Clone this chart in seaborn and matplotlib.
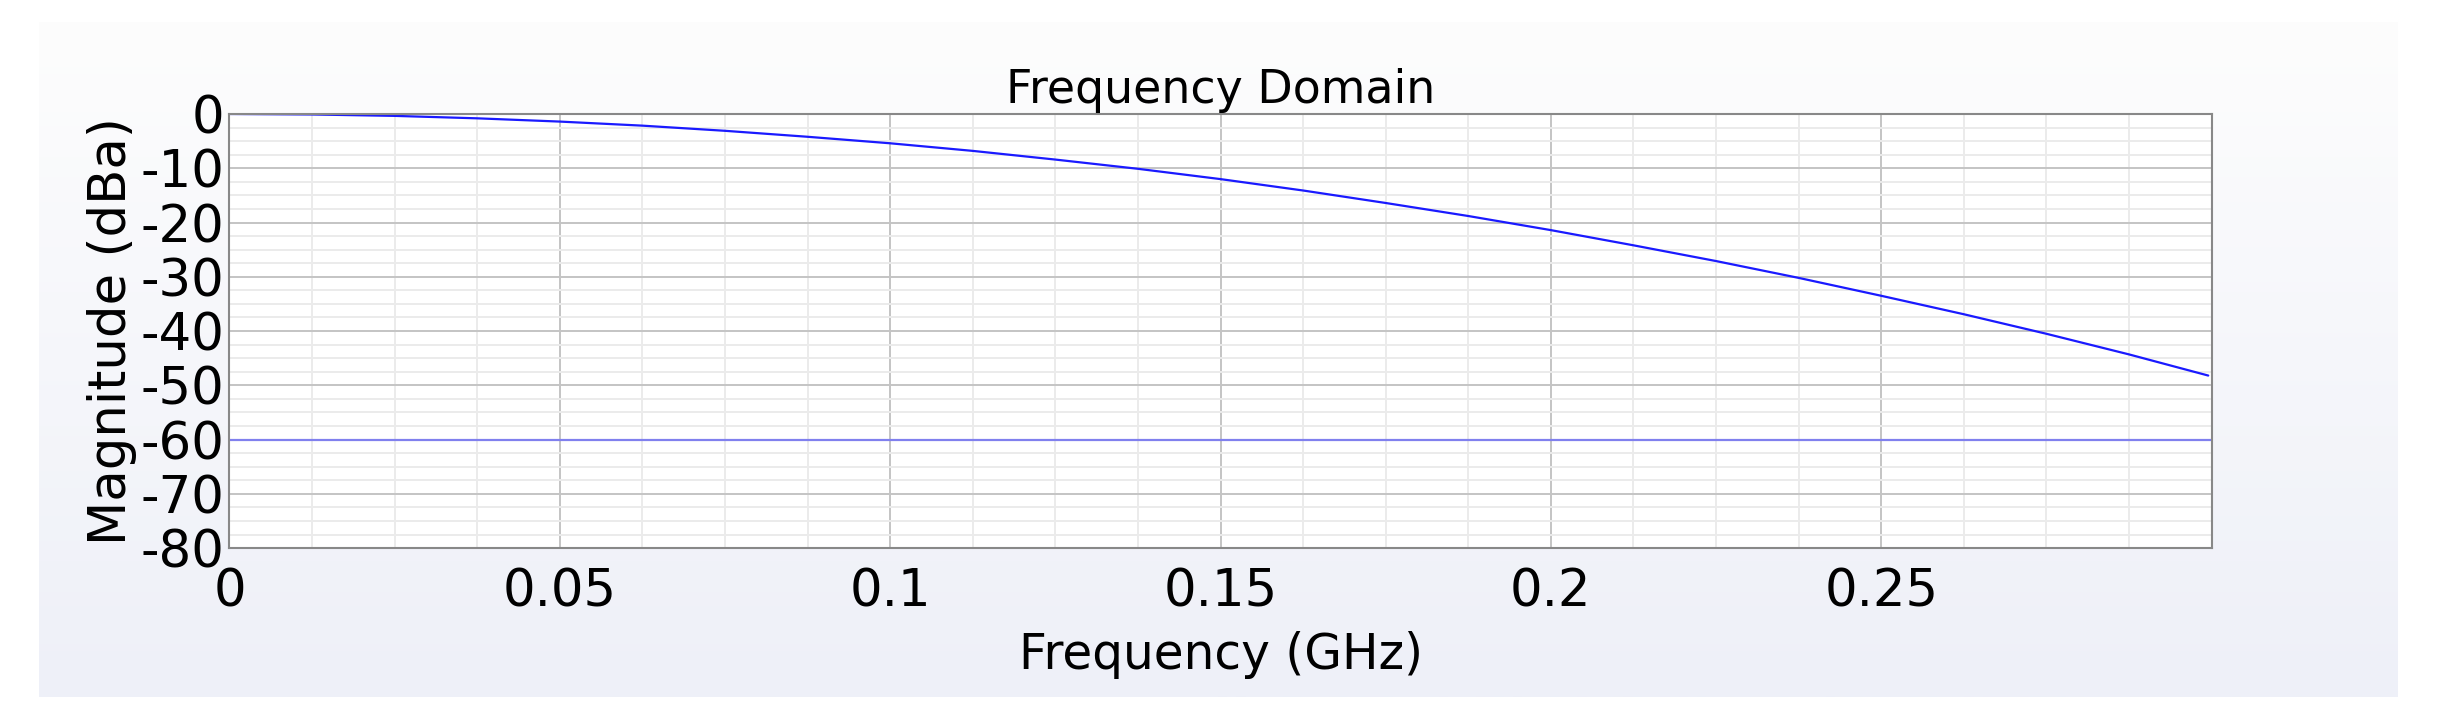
import numpy as np
import matplotlib
matplotlib.use("Agg")
import matplotlib.pyplot as plt
import seaborn as sns
from matplotlib.ticker import MultipleLocator

sns.set_style("white")
plt.rcParams["font.family"] = ["DejaVu Sans"]
plt.rcParams["axes.unicode_minus"] = False

freq = [0, 0.0125, 0.025, 0.0375, 0.05, 0.0625, 0.075, 0.0875, 0.1, 0.1125, 0.125,
        0.1375, 0.15, 0.1625, 0.175, 0.1875, 0.2, 0.2125, 0.225, 0.2375, 0.25,
        0.2625, 0.275, 0.2875, 0.2995]
mag = [0, -0.09, -0.35, -0.8, -1.4, -2.15, -3.1, -4.2, -5.4, -6.8, -8.4,
       -10.1, -12.0, -14.1, -16.4, -18.8, -21.4, -24.2, -27.1, -30.2, -33.5,
       -36.9, -40.5, -44.3, -48.2]
floor_level = -60

fig = plt.figure(figsize=(24.41, 7.26), dpi=100)
fig.patch.set_facecolor("white")
# light lavender panel behind the chart
grad = np.linspace(0, 1, 256).reshape(-1, 1)
bg = fig.add_axes([0.016, 0.04, 0.966, 0.93], zorder=-1)
bg.imshow(grad, aspect="auto", cmap=matplotlib.colors.LinearSegmentedColormap.from_list(
    "bg", ["#eef0f8", "#fdfdfd"]), extent=[0, 1, 0, 1], origin="lower")
bg.axis("off")

ax = fig.add_axes([0.094, 0.245, 0.812, 0.598])
ax.set_facecolor("white")
sns.lineplot(x=freq, y=mag, ax=ax, color="#1a1aff", linewidth=1.6)
ax.axhline(floor_level, color="#8080ee", linewidth=1.6)

ax.set_xlim(0, 0.3)
ax.set_ylim(-80, 0)
ax.xaxis.set_major_locator(MultipleLocator(0.05))
ax.xaxis.set_minor_locator(MultipleLocator(0.0125))
ax.yaxis.set_major_locator(MultipleLocator(10))
ax.yaxis.set_minor_locator(MultipleLocator(2.5))
ax.set_xticks([0, 0.05, 0.1, 0.15, 0.2, 0.25])
ax.set_xticklabels(["0", "0.05", "0.1", "0.15", "0.2", "0.25"])
ax.grid(which="major", color="#c4c4c4", linewidth=1.4)
ax.grid(which="minor", color="#ebebeb", linewidth=1.4)
ax.tick_params(labelsize=37, length=0, labelcolor="black")
ax.tick_params(axis="x", pad=14)
ax.tick_params(axis="y", pad=4)
for s in ax.spines.values():
    s.set_color("#888888")
    s.set_linewidth(1.5)

ax.set_title("Frequency Domain", fontsize=33, pad=8, color="black")
ax.set_xlabel("Frequency (GHz)", fontsize=35, labelpad=10, color="black")
ax.set_ylabel("Magnitude (dBa)", fontsize=37, labelpad=2, color="black")

fig.savefig("out.png", dpi=100)
